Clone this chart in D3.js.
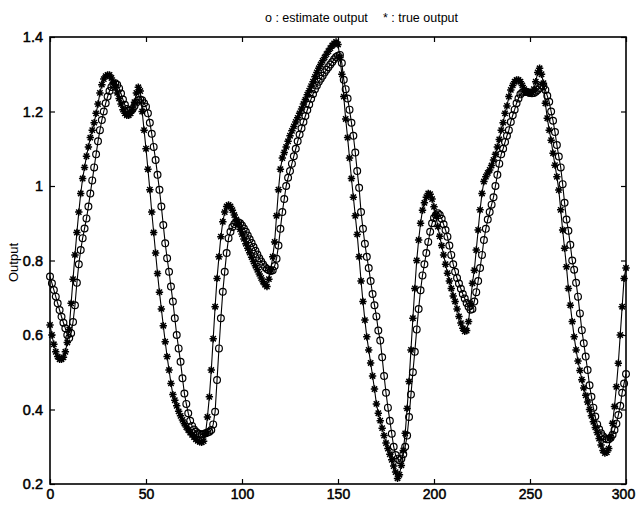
<!DOCTYPE html>
<html>
<head>
<meta charset="utf-8">
<script src="https://cdn.jsdelivr.net/npm/d3@7"></script>
<style>
  html, body { margin: 0; padding: 0; background: #fff; }
  svg { display: block; }
</style>
</head>
<body>
<div id="chart"></div>
<script>
// Sample index runs 0..300 with one sample per step
const sampleStep = 1;

// True plant output
const trueOutput = [
  0.627, 0.60, 0.575, 0.555, 0.542, 0.535, 0.535, 0.54, 0.555, 0.58,
  0.615, 0.685, 0.75, 0.815, 0.875, 0.93, 0.98, 1.02, 1.05, 1.08,
  1.105, 1.13, 1.15, 1.17, 1.195, 1.22, 1.25, 1.272, 1.287, 1.295,
  1.298, 1.298, 1.29, 1.278, 1.265, 1.25, 1.235, 1.22, 1.205, 1.195,
  1.19, 1.19, 1.195, 1.205, 1.225, 1.25, 1.265, 1.255, 1.2, 1.15,
  1.1, 1.045, 0.99, 0.93, 0.875, 0.82, 0.765, 0.715, 0.67, 0.625,
  0.582, 0.542, 0.506, 0.47, 0.44, 0.425, 0.41, 0.395, 0.383, 0.372,
  0.362, 0.353, 0.345, 0.338, 0.332, 0.326, 0.32, 0.316, 0.313, 0.312,
  0.315, 0.335, 0.38, 0.434, 0.506, 0.59, 0.676, 0.752, 0.81, 0.864,
  0.904, 0.93, 0.945, 0.949, 0.945, 0.935, 0.922, 0.91, 0.897, 0.884,
  0.871, 0.858, 0.845, 0.833, 0.821, 0.809, 0.797, 0.786, 0.775, 0.764,
  0.753, 0.743, 0.735, 0.73, 0.75, 0.775, 0.81, 0.85, 0.92, 0.99,
  1.045, 1.075, 1.09, 1.105, 1.12, 1.135, 1.148, 1.16, 1.172, 1.183,
  1.195, 1.207, 1.22, 1.232, 1.245, 1.256, 1.268, 1.28, 1.293, 1.305,
  1.316, 1.326, 1.336, 1.345, 1.354, 1.362, 1.37, 1.377, 1.383, 1.387,
  1.38, 1.345, 1.30, 1.24, 1.18, 1.13, 1.075, 1.02, 0.97, 0.92,
  0.87, 0.81, 0.745, 0.69, 0.64, 0.595, 0.56, 0.525, 0.49, 0.455,
  0.415, 0.39, 0.37, 0.35, 0.33, 0.31, 0.295, 0.28, 0.265, 0.248,
  0.232, 0.215, 0.225, 0.25, 0.29, 0.336, 0.403, 0.475, 0.56, 0.645,
  0.725, 0.80, 0.855, 0.90, 0.935, 0.955, 0.97, 0.98, 0.978, 0.965,
  0.944, 0.92, 0.891, 0.865, 0.84, 0.815, 0.79, 0.766, 0.745, 0.725,
  0.705, 0.69, 0.67, 0.65, 0.632, 0.618, 0.61, 0.612, 0.636, 0.685,
  0.739, 0.774, 0.828, 0.882, 0.936, 0.98, 1.012, 1.025, 1.035, 1.043,
  1.055, 1.07, 1.085, 1.105, 1.125, 1.15, 1.17, 1.195, 1.215, 1.24,
  1.258, 1.27, 1.28, 1.285, 1.285, 1.28, 1.27, 1.26, 1.253, 1.25,
  1.25, 1.252, 1.26, 1.28, 1.305, 1.316, 1.30, 1.276, 1.222, 1.182,
  1.15, 1.123, 1.088, 1.056, 1.025, 0.989, 0.936, 0.882, 0.833, 0.783,
  0.725, 0.68, 0.636, 0.595, 0.56, 0.53, 0.505, 0.48, 0.458, 0.438,
  0.42, 0.40, 0.383, 0.367, 0.352, 0.338, 0.322, 0.305, 0.29, 0.283,
  0.285, 0.295, 0.325, 0.363, 0.408, 0.461, 0.524, 0.60, 0.676, 0.752,
  0.78
];

// Model estimate of the output
const estimateOutput = [
  0.757, 0.739, 0.721, 0.703, 0.685, 0.667, 0.649, 0.633, 0.618, 0.60,
  0.592, 0.605, 0.635, 0.68, 0.74, 0.79, 0.828, 0.86, 0.886, 0.913,
  0.945, 0.98, 1.015, 1.05, 1.085, 1.12, 1.15, 1.177, 1.20, 1.222,
  1.24, 1.255, 1.266, 1.273, 1.276, 1.272, 1.262, 1.248, 1.232, 1.218,
  1.207, 1.203, 1.203, 1.207, 1.215, 1.224, 1.23, 1.232, 1.23, 1.222,
  1.213, 1.195, 1.17, 1.14, 1.105, 1.07, 1.03, 0.99, 0.945, 0.895,
  0.846, 0.806, 0.77, 0.73, 0.69, 0.645, 0.60, 0.564, 0.528, 0.484,
  0.443, 0.415, 0.39, 0.37, 0.356, 0.346, 0.34, 0.336, 0.334, 0.333,
  0.334, 0.336, 0.338, 0.34, 0.345, 0.36, 0.394, 0.479, 0.564, 0.645,
  0.716, 0.77, 0.82, 0.86, 0.877, 0.89, 0.898, 0.903, 0.903, 0.90,
  0.894, 0.886, 0.877, 0.867, 0.857, 0.847, 0.836, 0.826, 0.816, 0.806,
  0.797, 0.789, 0.782, 0.777, 0.774, 0.772, 0.774, 0.785, 0.805, 0.84,
  0.885, 0.93, 0.965, 1.00, 1.022, 1.04, 1.06, 1.08, 1.10, 1.12,
  1.138, 1.155, 1.172, 1.188, 1.204, 1.219, 1.234, 1.247, 1.26, 1.27,
  1.28, 1.288, 1.296, 1.305, 1.312, 1.319, 1.326, 1.333, 1.34, 1.346,
  1.35, 1.352, 1.33, 1.285, 1.26, 1.235, 1.205, 1.17, 1.135, 1.09,
  1.04, 0.995, 0.93, 0.885, 0.845, 0.81, 0.78, 0.745, 0.71, 0.68,
  0.65, 0.612, 0.585, 0.54, 0.49, 0.445, 0.405, 0.37, 0.335, 0.30,
  0.278, 0.268, 0.264, 0.268, 0.28, 0.30, 0.33, 0.38, 0.44, 0.50,
  0.555, 0.615, 0.67, 0.72, 0.76, 0.79, 0.82, 0.85, 0.877, 0.90,
  0.914, 0.922, 0.927, 0.922, 0.912, 0.897, 0.882, 0.864, 0.84, 0.815,
  0.79, 0.77, 0.753, 0.738, 0.724, 0.71, 0.698, 0.686, 0.676, 0.668,
  0.67, 0.69, 0.715, 0.745, 0.78, 0.815, 0.855, 0.885, 0.91, 0.93,
  0.95, 0.97, 1.00, 1.03, 1.06, 1.085, 1.10, 1.118, 1.135, 1.15,
  1.172, 1.19, 1.205, 1.222, 1.235, 1.246, 1.251, 1.253, 1.253, 1.252,
  1.25, 1.249, 1.25, 1.253, 1.258, 1.263, 1.27, 1.268, 1.258, 1.242,
  1.226, 1.20, 1.175, 1.145, 1.11, 1.079, 1.05, 1.005, 0.955, 0.91,
  0.88, 0.842, 0.80, 0.775, 0.74, 0.703, 0.658, 0.613, 0.578, 0.542,
  0.506, 0.465, 0.434, 0.405, 0.381, 0.36, 0.347, 0.336, 0.328, 0.323,
  0.32, 0.32, 0.324, 0.332, 0.345, 0.362, 0.385, 0.41, 0.445, 0.47,
  0.495
];

// Axis ticks and their labels
const xTicks = [0, 50, 100, 150, 200, 250, 300];
const xTickLabels = ["0", "50", "100", "150", "200", "250", "300"];
const yTicks = [0.2, 0.4, 0.6, 0.8, 1.0, 1.2, 1.4];
const yTickLabels = ["0.2", "0.4", "0.6", "0.8", "1", "1.2", "1.4"];

// Chart dimensions
const width = 638;
const height = 508;
const margin = { top: 37, right: 12, bottom: 24, left: 50 };
const innerWidth = width - margin.left - margin.right;
const innerHeight = height - margin.top - margin.bottom;
const font = "'Liberation Sans', Arial, Helvetica, sans-serif";

const svg = d3.select("#chart")
  .append("svg")
  .attr("width", width)
  .attr("height", height);

const g = svg.append("g")
  .attr("transform", `translate(${margin.left}, ${margin.top})`);

// Scales
const xScale = d3.scaleLinear()
  .domain([0, 300])
  .range([0, innerWidth]);

const yScale = d3.scaleLinear()
  .domain([0.2, 1.4])
  .range([innerHeight, 0]);

const toPoints = arr => arr.map((v, i) => ({ x: i * sampleStep, y: v }));
const truePts = toPoints(trueOutput);
const estPts = toPoints(estimateOutput);

g.append("defs").append("clipPath")
  .attr("id", "plot-clip")
  .append("rect")
  .attr("x", -6).attr("y", -6)
  .attr("width", innerWidth + 12)
  .attr("height", innerHeight + 12);

const plot = g.append("g").attr("clip-path", "url(#plot-clip)");

const line = d3.line()
  .x(d => xScale(d.x))
  .y(d => yScale(d.y));

// Connecting lines
[estPts, truePts].forEach(pts => {
  plot.append("path")
    .datum(pts)
    .attr("d", line)
    .attr("fill", "none")
    .attr("stroke", "#000")
    .attr("stroke-width", 1.1);
});

// Circle markers for the estimate
plot.selectAll(".est")
  .data(estPts)
  .enter()
  .append("circle")
  .attr("class", "est")
  .attr("cx", d => xScale(d.x))
  .attr("cy", d => yScale(d.y))
  .attr("r", 3.4)
  .attr("fill", "none")
  .attr("stroke", "#000")
  .attr("stroke-width", 1.2);

// Asterisk markers for the true output
const s = 3.7, dg = s * 0.72;
const starPath = `M${-s},0H${s}M0,${-s}V${s}M${-dg},${-dg}L${dg},${dg}M${-dg},${dg}L${dg},${-dg}`;
plot.selectAll(".tru")
  .data(truePts)
  .enter()
  .append("path")
  .attr("class", "tru")
  .attr("transform", d => `translate(${xScale(d.x)}, ${yScale(d.y)})`)
  .attr("d", starPath)
  .attr("fill", "none")
  .attr("stroke", "#000")
  .attr("stroke-width", 1.5);

// Axes with inward ticks on all four sides
const styleAxis = (sel, size) => {
  sel.select(".domain").remove();
  sel.selectAll(".tick line").attr("stroke", "#000").attr("stroke-width", 1.2);
  sel.selectAll("text")
    .style("font-family", font)
    .style("font-size", size)
    .attr("fill", "#000")
    .attr("stroke", "#000")
    .attr("stroke-width", 0.5);
};

// mirrored axes carry tick marks only
const ticksOnly = sel => {
  sel.select(".domain").remove();
  sel.selectAll(".tick text").remove();
  sel.selectAll(".tick line").attr("stroke", "#000").attr("stroke-width", 1.2);
};

const xAxisG = g.append("g")
  .attr("transform", `translate(0, ${innerHeight})`)
  .call(d3.axisBottom(xScale).tickValues(xTicks)
    .tickFormat((d, i) => xTickLabels[i]).tickSizeInner(-5).tickPadding(5))
  .call(styleAxis, "14px");

// keep the last label inside the page edge
xAxisG.selectAll(".tick text").filter(d => d === 300).attr("dx", -3);

g.append("g")
  .call(d3.axisTop(xScale).tickValues(xTicks).tickSizeInner(-5))
  .call(ticksOnly);

g.append("g")
  .call(d3.axisLeft(yScale).tickValues(yTicks)
    .tickFormat((d, i) => yTickLabels[i]).tickSizeInner(-5).tickPadding(7))
  .call(styleAxis, "14.5px");

g.append("g")
  .attr("transform", `translate(${innerWidth}, 0)`)
  .call(d3.axisRight(yScale).tickValues(yTicks).tickSizeInner(-5))
  .call(ticksOnly);

// Plot frame
g.append("rect")
  .attr("x", 0).attr("y", 0)
  .attr("width", innerWidth)
  .attr("height", innerHeight)
  .attr("fill", "none")
  .attr("stroke", "#000")
  .attr("stroke-width", 1.6);

// Y axis label
svg.append("text")
  .attr("transform", `translate(18, ${margin.top + innerHeight / 2 + 2}) rotate(-90)`)
  .attr("text-anchor", "middle")
  .style("font-family", font)
  .style("font-size", "13px")
  .attr("fill", "#000")
  .text("Output");

// Legend-style title, two parts
const titleParts = [
  { x: 265, text: "o : estimate output" },
  { x: 383, text: "* : true output" }
];
svg.selectAll(".title-part")
  .data(titleParts)
  .enter()
  .append("text")
  .attr("class", "title-part")
  .attr("x", d => d.x)
  .attr("y", 22)
  .style("font-family", font)
  .style("font-size", "12.5px")
  .attr("fill", "#000")
  .text(d => d.text);
</script>
</body>
</html>
